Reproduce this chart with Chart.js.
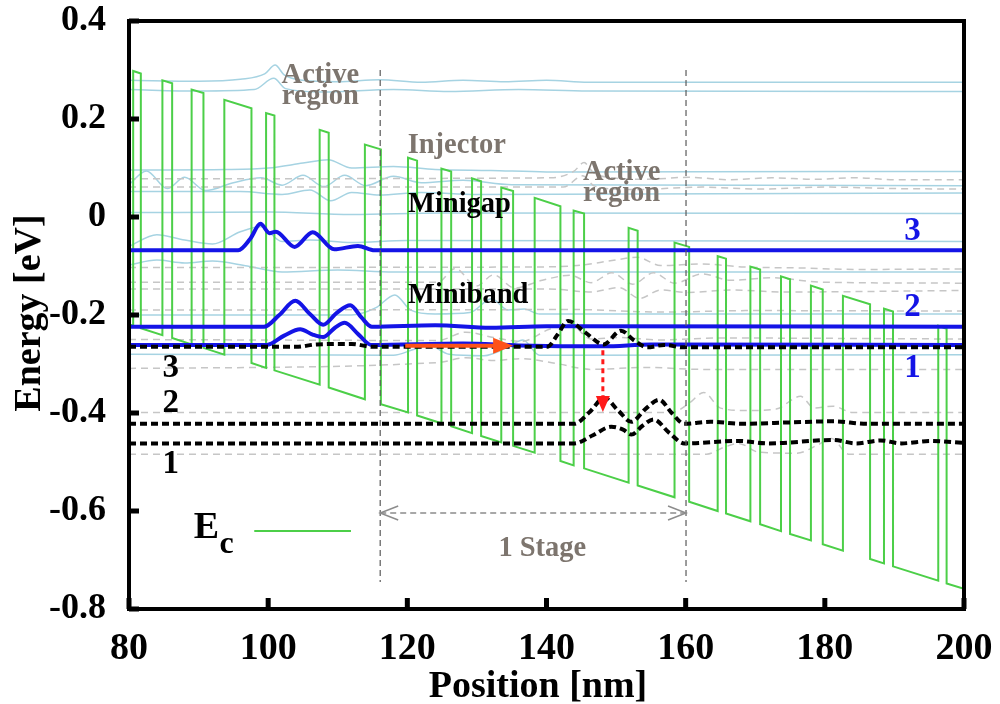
<!DOCTYPE html>
<html>
<head>
<meta charset="utf-8">
<script src="https://cdn.jsdelivr.net/npm/chart.js@4.4.0/dist/chart.umd.min.js"></script>
<style>
  html, body { margin: 0; padding: 0; background: #fff; }
</style>
</head>
<body>
<canvas id="qcl" width="1000" height="704"></canvas>
<script>
// axis ticks
const xTicks = [80, 100, 120, 140, 160, 180, 200];
const xTickLabels = ['80', '100', '120', '140', '160', '180', '200'];
const yTicks = [0.4, 0.2, 0, -0.2, -0.4, -0.6, -0.8];
const yTickLabels = ['0.4', '0.2', '0', '-0.2', '-0.4', '-0.6', '-0.8'];

// conduction band: barrier edges [nm] and band energy at the edges [eV]
const ecStart = [80, -0.219];
const ecEnd = [200, -0.759];
const barrierLeft  = [80.6, 84.8, 89.0, 93.7, 99.7, 107.4, 113.9, 120.1, 124.9, 129.3, 133.5, 138.3, 143.9, 151.8, 158.4, 164.6, 169.3, 173.7, 178.0, 182.6, 188.5, 196.3];
const barrierRight = [81.7, 86.2, 90.7, 97.6, 100.9, 108.7, 116.2, 121.4, 126.3, 130.6, 135.2, 142.0, 145.4, 153.1, 160.5, 165.8, 170.7, 175.0, 179.7, 186.5, 189.8, 197.5];
const topLeft      = [0.298, 0.279, 0.260, 0.239, 0.212, 0.178, 0.148, 0.121, 0.099, 0.079, 0.060, 0.039, 0.013, -0.022, -0.052, -0.080, -0.101, -0.121, -0.140, -0.161, -0.187, -0.222];
const topRight     = [0.293, 0.273, 0.253, 0.222, 0.207, 0.172, 0.138, 0.115, 0.093, 0.073, 0.053, 0.022, 0.007, -0.028, -0.061, -0.085, -0.107, -0.127, -0.148, -0.178, -0.193, -0.228];
const bottomLeft   = [-0.222, -0.241, -0.260, -0.281, -0.308, -0.342, -0.372, -0.399, -0.421, -0.441, -0.460, -0.481, -0.507, -0.542, -0.572, -0.600, -0.621, -0.641, -0.660, -0.681, -0.707, -0.742];
const bottomRight  = [-0.227, -0.247, -0.267, -0.298, -0.313, -0.348, -0.382, -0.405, -0.427, -0.447, -0.467, -0.498, -0.513, -0.548, -0.581, -0.605, -0.627, -0.647, -0.668, -0.698, -0.713, -0.748];

// active region states (blue, stage 1) [nm, eV]
const blue3 = [[80,-0.068],[95.7,-0.068],[97.4,-0.045],[98.9,-0.014],[100.2,-0.033],[101.1,-0.030],[103.8,-0.061],[106.4,-0.031],[109.5,-0.066],[112.9,-0.059],[115.3,-0.068],[200,-0.068]];
const blue2 = [[80,-0.224],[99.4,-0.224],[101.6,-0.200],[103.9,-0.171],[106,-0.198],[107.9,-0.220],[109.9,-0.195],[111.8,-0.180],[113.4,-0.205],[114.9,-0.224],[124,-0.221],[132,-0.226],[140,-0.223],[200,-0.224]];
const blue1 = [[80,-0.261],[99.8,-0.261],[102.3,-0.242],[104.6,-0.229],[106.4,-0.240],[107.9,-0.245],[109.6,-0.226],[111.0,-0.216],[113.0,-0.240],[114.8,-0.261],[128,-0.258],[136,-0.262],[148.2,-0.264],[155,-0.260],[200,-0.261]];

// active region states (black dashed, stage 2)
const black3 = [[80,-0.265],[104,-0.265],[107,-0.260],[112,-0.259],[115,-0.265],[140.1,-0.265],[141.6,-0.240],[143.1,-0.212],[145.6,-0.236],[148.2,-0.260],[150.7,-0.232],[152.6,-0.252],[154.5,-0.266],[156.9,-0.261],[159.6,-0.266],[200,-0.266]];
const black2 = [[80,-0.422],[144.0,-0.422],[146.2,-0.398],[148.3,-0.369],[150.3,-0.395],[152.2,-0.418],[154.2,-0.392],[156.2,-0.373],[158.0,-0.400],[159.8,-0.422],[163.6,-0.418],[168,-0.422],[175.4,-0.419],[181.2,-0.417],[186,-0.422],[200,-0.422]];
const black1 = [[80,-0.462],[144.0,-0.462],[146.6,-0.446],[149.3,-0.428],[151.0,-0.434],[152.2,-0.444],[153.8,-0.426],[155.4,-0.413],[157.6,-0.440],[159.8,-0.462],[167.6,-0.457],[172,-0.462],[181.2,-0.455],[184.5,-0.462],[188,-0.456],[191,-0.462],[195.2,-0.457],[200,-0.461]];

// other states of stage 1 (light blue)
const lightStates = [
  [[80,0.279],[90,0.277],[96,0.281],[99.5,0.292],[101,0.31],[102.3,0.29],[105,0.279],[110,0.276],[116,0.28],[122,0.275],[128,0.279],[134,0.276],[140,0.279],[146,0.275],[200,0.275]],
  [[80,0.260],[90,0.257],[98,0.26],[100.8,0.283],[102.5,0.262],[108,0.255],[118,0.26],[126,0.256],[136,0.26],[146,0.257],[200,0.256]],
  [[80,0.096],[94,0.097],[100,0.1],[105,0.11],[108.6,0.117],[112,0.1],[118,0.103],[124,0.097],[132,0.095],[140,0.092],[200,0.093]],
  [[80,0.066],[82.5,0.094],[85.5,0.058],[88,0.081],[91,0.054],[95,0.07],[99,0.08],[102,0.065],[105,0.085],[108,0.062],[111,0.085],[114,0.064],[118,0.083],[122,0.07],[128,0.075],[135,0.066],[200,0.064]],
  [[80,0.052],[96,0.052],[102,0.046],[106,0.055],[109,0.033],[112,0.05],[116,0.045],[122,0.05],[130,0.046],[200,0.049]],
  [[80,0.009],[100,0.01],[112,0.005],[125,0.008],[200,0.007]],
  [[80,-0.06],[84,-0.036],[88,-0.047],[92,-0.055],[96,-0.03],[99,-0.02],[102,-0.05],[106,-0.047],[112,-0.052],[120,-0.048],[200,-0.05]],
  [[80,-0.098],[84,-0.088],[88,-0.094],[92,-0.09],[97,-0.1],[102,-0.112],[110,-0.108],[118,-0.112],[200,-0.112]],
  [[80,-0.2],[112,-0.2],[115.5,-0.185],[118.2,-0.159],[120.5,-0.19],[124,-0.198],[129,-0.195],[132.1,-0.167],[134.5,-0.19],[136.8,-0.188],[139,-0.198],[200,-0.198]],
  [[80,-0.28],[118,-0.282],[121,-0.27],[123.2,-0.263],[126,-0.28],[131,-0.283],[134.5,-0.265],[136.6,-0.251],[139,-0.282],[200,-0.281]]
];

// other states of stage 2 (grey dashed)
const greyStates = [
  [[80,0.078],[140.6,0.08],[143.9,0.093],[145.4,0.111],[146.7,0.091],[149.4,0.08],[154.4,0.077],[160.4,0.081],[166.4,0.076],[172.4,0.08],[178.4,0.077],[184.4,0.08],[190.4,0.076],[200,0.076]],
  [[80,0.061],[142.4,0.061],[145.2,0.084],[146.9,0.063],[152.4,0.056],[162.4,0.061],[170.4,0.057],[180.4,0.061],[190.4,0.058],[200,0.057]],
  [[80,-0.103],[138.4,-0.102],[144.4,-0.099],[149.4,-0.089],[153,-0.082],[156.4,-0.099],[162.4,-0.096],[168.4,-0.102],[176.4,-0.104],[184.4,-0.107],[200,-0.106]],
  [[80,-0.133],[124.4,-0.133],[126.9,-0.105],[129.9,-0.141],[132.4,-0.118],[135.4,-0.145],[139.4,-0.129],[143.4,-0.119],[146.4,-0.134],[149.4,-0.114],[152.4,-0.137],[155.4,-0.114],[158.4,-0.135],[162.4,-0.116],[166.4,-0.129],[172.4,-0.124],[179.4,-0.133],[200,-0.135]],
  [[80,-0.147],[140.4,-0.147],[146.4,-0.153],[150.4,-0.144],[153.4,-0.166],[156.4,-0.149],[160.4,-0.154],[166.4,-0.149],[174.4,-0.153],[200,-0.150]],
  [[80,-0.19],[144.4,-0.189],[156.4,-0.194],[169.4,-0.191],[200,-0.192]],
  [[80,-0.25],[124.4,-0.252],[128.4,-0.235],[132.4,-0.246],[136.4,-0.254],[140.4,-0.229],[143.4,-0.219],[146.4,-0.249],[150.4,-0.246],[156.4,-0.251],[164.4,-0.247],[200,-0.249]],
  [[80,-0.309],[124.4,-0.297],[128.4,-0.287],[132.4,-0.293],[136.4,-0.289],[141.4,-0.299],[146.4,-0.311],[154.4,-0.307],[162.4,-0.311],[200,-0.311]],
  [[80,-0.399],[158,-0.399],[160.5,-0.38],[162.6,-0.358],[165,-0.39],[168.8,-0.395],[173,-0.392],[176.5,-0.366],[178.5,-0.39],[181.2,-0.386],[184,-0.399],[200,-0.399]],
  [[80,-0.484],[163,-0.484],[165.5,-0.47],[167.6,-0.462],[170.5,-0.48],[176,-0.482],[179,-0.465],[181,-0.452],[183.4,-0.484],[200,-0.484]]
];

// stage boundaries [nm]
const stageBounds = [116.1, 160.05];

const pts = arr => arr.map(p => ({ x: p[0], y: p[1] }));

const ecPoints = [ecStart];
barrierLeft.forEach((xl, i) => {
  ecPoints.push([xl, bottomLeft[i]], [xl, topLeft[i]], [barrierRight[i], topRight[i]], [barrierRight[i], bottomRight[i]]);
});
ecPoints.push(ecEnd);

const serif = '"Liberation Serif", "Times New Roman", serif';
const datasets = [];
[black3, black2, black1].forEach(d => datasets.push({
  data: pts(d), borderColor: '#000', borderWidth: 4, borderDash: [7, 4],
  cubicInterpolationMode: 'monotone', order: 0
}));
[blue3, blue2, blue1].forEach(d => datasets.push({
  data: pts(d), borderColor: '#1414e6', borderWidth: 4,
  cubicInterpolationMode: 'monotone', order: 1
}));
datasets.push({ data: pts(ecPoints), borderColor: '#4ccf48', borderWidth: 2, tension: 0, order: 2 });
greyStates.forEach(d => datasets.push({
  data: pts(d), borderColor: '#c6c6c6', borderWidth: 1.5, borderDash: [7, 5],
  cubicInterpolationMode: 'monotone', order: 3
}));
lightStates.forEach(d => datasets.push({
  data: pts(d), borderColor: '#a6d3e2', borderWidth: 1.5,
  cubicInterpolationMode: 'monotone', order: 4
}));
datasets.forEach(d => { d.showLine = true; d.pointRadius = 0; d.fill = false; });

function arrowHead(ctx, x, y, dx, dy, len, half) {
  const px = -dy, py = dx;
  ctx.beginPath();
  ctx.moveTo(x, y);
  ctx.lineTo(x - dx * len + px * half, y - dy * len + py * half);
  ctx.lineTo(x - dx * len - px * half, y - dy * len - py * half);
  ctx.closePath();
  ctx.fill();
}

// keep the plot box fixed: no extra padding from tick labels
function fixScale(s, size) {
  if (s.isHorizontal()) s.height = size; else s.width = size;
  s.paddingTop = 0; s.paddingBottom = 0; s.paddingLeft = 0; s.paddingRight = 0;
}

const decor = {
  id: 'decor',
  afterDatasetsDraw(chart) {
    const { ctx, chartArea: a, scales: { x, y } } = chart;
    const X = v => x.getPixelForValue(v), Y = v => y.getPixelForValue(v);
    ctx.save();

    // stage boundaries
    ctx.strokeStyle = '#5a5a5a'; ctx.lineWidth = 1.2; ctx.setLineDash([6, 4]);
    stageBounds.forEach(b => {
      ctx.beginPath(); ctx.moveTo(X(b), Y(0.3)); ctx.lineTo(X(b), Y(-0.745)); ctx.stroke();
    });

    // stage dimension arrow
    const sy = Y(-0.604);
    ctx.strokeStyle = '#8c8c8c'; ctx.lineWidth = 1.5; ctx.setLineDash([6, 4]);
    ctx.beginPath(); ctx.moveTo(X(stageBounds[0]), sy); ctx.lineTo(X(stageBounds[1]), sy); ctx.stroke();
    ctx.setLineDash([]);
    [[X(stageBounds[0]), 1], [X(stageBounds[1]), -1]].forEach(([px, s]) => {
      ctx.beginPath();
      ctx.moveTo(px + s * 18, sy - 7); ctx.lineTo(px, sy); ctx.lineTo(px + s * 18, sy + 7);
      ctx.stroke();
    });

    // orange arrow (injection)
    const oy = Y(-0.263);
    ctx.strokeStyle = '#ff5218'; ctx.fillStyle = '#ff5218'; ctx.lineWidth = 4;
    ctx.beginPath(); ctx.moveTo(X(119.7), oy); ctx.lineTo(X(135.2) - 16, oy); ctx.stroke();
    arrowHead(ctx, X(135.2), oy, 1, 0, 20, 8);

    // red dashed arrow (transition)
    const rx = X(148.1);
    ctx.strokeStyle = '#ff1a1a'; ctx.fillStyle = '#ff1a1a'; ctx.lineWidth = 3; ctx.setLineDash([5, 4]);
    ctx.beginPath(); ctx.moveTo(rx, Y(-0.272)); ctx.lineTo(rx, Y(-0.398) - 12); ctx.stroke();
    ctx.setLineDash([]);
    arrowHead(ctx, rx, Y(-0.398), 0, 1, 16, 7);

    // E_c legend
    ctx.strokeStyle = '#4ccf48'; ctx.lineWidth = 2;
    ctx.beginPath(); ctx.moveTo(X(98.0), Y(-0.641)); ctx.lineTo(X(111.9), Y(-0.641)); ctx.stroke();
    ctx.fillStyle = '#000'; ctx.textAlign = 'left'; ctx.textBaseline = 'alphabetic';
    ctx.font = 'bold 38px ' + serif;
    ctx.fillText('E', X(89.3), Y(-0.655));
    ctx.font = 'bold 32px ' + serif;
    ctx.fillText('c', X(93.0), Y(-0.685));

    // region labels
    ctx.textAlign = 'center';
    ctx.font = 'bold 28.5px ' + serif;
    ctx.fillStyle = '#7d756e';
    ctx.fillText('Active', X(107.5), Y(0.274));
    ctx.fillText('region', X(107.5), Y(0.231));
    ctx.fillText('Injector', X(127.1), Y(0.130));
    ctx.fillText('Active', X(150.8), Y(0.076));
    ctx.fillText('region', X(150.8), Y(0.032));
    ctx.fillText('1 Stage', X(139.4), Y(-0.691));
    ctx.fillStyle = '#000';
    ctx.textAlign = 'left';
    ctx.fillText('Minigap', X(120.1), Y(0.011));
    ctx.fillText('Miniband', X(120.1), Y(-0.176));
    ctx.textAlign = 'center';

    // state numbers
    ctx.textBaseline = 'middle';
    ctx.font = 'bold 33px ' + serif;
    ctx.fillStyle = '#1414e6';
    [['3', -0.030], ['2', -0.184], ['1', -0.310]].forEach(([t, e]) => ctx.fillText(t, X(192.6), Y(e)));
    ctx.fillStyle = '#000';
    [['3', -0.310], ['2', -0.381], ['1', -0.505]].forEach(([t, e]) => ctx.fillText(t, X(86.0), Y(e)));
    ctx.restore();
  },
  afterDraw(chart) {
    const { ctx, chartArea: a, scales: { x, y } } = chart;
    ctx.save();
    // inward ticks
    ctx.fillStyle = '#000';
    yTicks.forEach(v => { const p = y.getPixelForValue(v); ctx.fillRect(a.left, p - 2.5, 10, 5); });
    xTicks.forEach(v => { const p = x.getPixelForValue(v); ctx.fillRect(p - 2.5, a.bottom - 11, 5, 11); });
    // frame
    ctx.strokeStyle = '#000'; ctx.lineWidth = 4;
    ctx.strokeRect(a.left, a.top, a.right - a.left, a.bottom - a.top);
    // axis titles
    ctx.font = 'bold 38px ' + serif;
    ctx.textAlign = 'center'; ctx.textBaseline = 'alphabetic';
    ctx.fillText('Position [nm]', 538, 697);
    ctx.translate(40, 313); ctx.rotate(-Math.PI / 2);
    ctx.fillText('Energy [eV]', 0, 0);
    ctx.restore();
  }
};

new Chart(document.getElementById('qcl').getContext('2d'), {
  type: 'scatter',
  data: { datasets },
  options: {
    responsive: false,
    animation: false,
    layout: { padding: { top: 21, right: 36, left: 0, bottom: 0 } },
    plugins: { legend: { display: false }, tooltip: { enabled: false } },
    scales: {
      x: {
        type: 'linear', min: 80, max: 200,
        grid: { display: false }, border: { display: false },
        afterBuildTicks: s => { s.ticks = xTicks.map(v => ({ value: v })); },
        afterFit: s => fixScale(s, 95),
        ticks: {
          callback: (v, i) => xTickLabels[i], autoSkip: false, maxRotation: 0, padding: 13,
          color: '#000', font: { family: serif, weight: 'bold', size: 38, lineHeight: 1 }
        }
      },
      y: {
        type: 'linear', min: -0.8, max: 0.4,
        grid: { display: false }, border: { display: false },
        afterBuildTicks: s => { s.ticks = yTicks.map(v => ({ value: v })); },
        afterFit: s => fixScale(s, 129),
        ticks: {
          callback: (v, i) => yTickLabels[i], autoSkip: false, padding: 15,
          color: '#000', font: { family: serif, weight: 'bold', size: 36, lineHeight: 1 }
        }
      }
    }
  },
  plugins: [decor]
});
</script>
</body>
</html>
